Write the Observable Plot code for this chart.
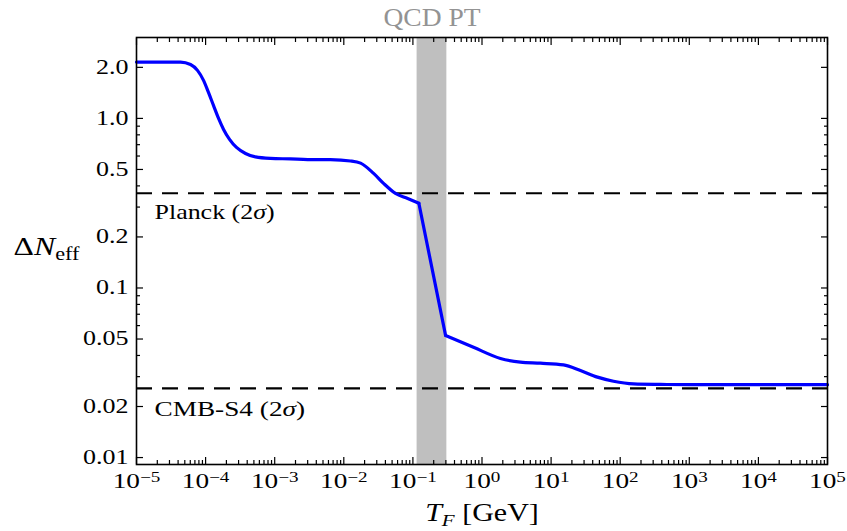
<!DOCTYPE html>
<html><head><meta charset="utf-8">
<script src="https://cdn.jsdelivr.net/npm/d3@7"></script>
<script src="https://cdn.jsdelivr.net/npm/@observablehq/plot@0.6"></script>
<style>body{margin:0;background:#fff}</style>
</head><body><div id="chart"></div>
<script>
// ---- data ----
const lowT = [1e-5, 2e-5, 4.34e-5, 6.05e-5, 7.63e-5, 9.33e-5, 1.1e-4, 1.3e-4, 1.54e-4, 1.82e-4, 2.22e-4, 2.8e-4, 3.78e-4, 5.27e-4, 8.69e-4, 1.69e-3, 3e-3, 6.4e-3, 1.25e-2, 1.75e-2, 2.7e-2, 3.76e-2, 5.6e-2, 8.4e-2, 0.122];
const lowN = [2.15, 2.15, 2.15, 2.08, 1.92, 1.676, 1.423, 1.193, 1.0, 0.861, 0.752, 0.674, 0.621, 0.593, 0.581, 0.577, 0.572, 0.571, 0.561, 0.545, 0.474, 0.414, 0.361, 0.337, 0.316];
const qcdT = [0.122, 0.297];
const qcdN = [0.316, 0.0525];
const highT = [0.297, 0.753, 1.85, 3.6, 7.0, 15.1, 26.6, 46.9, 80, 156, 383, 1e3, 1e4, 1e5];
const highN = [0.0525, 0.0447, 0.0384, 0.0365, 0.036, 0.0352, 0.0326, 0.0298, 0.0282, 0.0272, 0.0270, 0.0269, 0.0269, 0.0269];
const bandT = [0.115, 0.31];
const planckN = 0.362;
const cmbs4N = 0.0256;
const annotations = ["Planck (2σ)", "CMB-S4 (2σ)"];
const xExponents = [-5, -4, -3, -2, -1, 0, 1, 2, 3, 4, 5];
const xMajor = xExponents.map(e => Math.pow(10, e));
const xMinor = xExponents.slice(0, -1).flatMap(e => [2,3,4,5,6,7,8,9].map(m => m * Math.pow(10, e)));
const yMajor = [0.01, 0.02, 0.05, 0.1, 0.2, 0.5, 1, 2];
const yLabels = ["0.01", "0.02", "0.05", "0.1", "0.2", "0.5", "1.0", "2.0"];
const yMinor = [0.03, 0.04, 0.06, 0.07, 0.08, 0.09, 0.3, 0.4, 0.6, 0.7, 0.8, 0.9];

const rows = (T, N) => T.map((t, i) => ({T: t, N: N[i]}));
const blue = {x: "T", y: "N", stroke: "#0000ff", strokeWidth: 3.2};
const tickStyle = {stroke: "black", strokeWidth: 1.2};

const plot = Plot.plot({
  width: 847, height: 531,
  marginLeft: 136, marginRight: 20, marginTop: 37, marginBottom: 67,
  style: {fontFamily: "'Liberation Serif', serif", fontSize: "21px", background: "white", color: "black"},
  x: {type: "log", domain: [1e-5, 1e5]},
  y: {type: "log", domain: [0.0091, 3.0]},
  marks: [
    Plot.rect([bandT], {x1: d => d[0], x2: d => d[1], fill: "#bfbfbf"}),
    Plot.ruleY([planckN, cmbs4N], {stroke: "black", strokeWidth: 2.2, strokeDasharray: "16,10"}),
    Plot.line(rows(lowT, lowN), {...blue, curve: "monotone-x"}),
    Plot.line(rows(qcdT, qcdN), {...blue, curve: "linear"}),
    Plot.line(rows(highT, highN), {...blue, curve: "monotone-x"}),
    Plot.frame({stroke: "black", strokeWidth: 1.6}),
    // inward ticks on all four sides
    Plot.axisX({anchor: "bottom", ticks: xMajor, tickSize: 7, dy: -7, tickFormat: () => "", label: null, ...tickStyle}),
    Plot.axisX({anchor: "bottom", ticks: xMinor, tickSize: 4, dy: -4, tickFormat: () => "", label: null, ...tickStyle}),
    Plot.axisX({anchor: "top", ticks: xMajor, tickSize: 7, dy: 7, tickFormat: () => "", label: null, ...tickStyle}),
    Plot.axisX({anchor: "top", ticks: xMinor, tickSize: 4, dy: 4, tickFormat: () => "", label: null, ...tickStyle}),
    Plot.axisY({anchor: "left", ticks: yMajor, tickSize: 7, dx: 7, tickFormat: () => "", label: null, ...tickStyle}),
    Plot.axisY({anchor: "left", ticks: yMinor, tickSize: 4, dx: 4, tickFormat: () => "", label: null, ...tickStyle}),
    Plot.axisY({anchor: "right", ticks: yMajor, tickSize: 7, dx: -7, tickFormat: () => "", label: null, ...tickStyle}),
    Plot.axisY({anchor: "right", ticks: yMinor, tickSize: 4, dx: -4, tickFormat: () => "", label: null, ...tickStyle}),
    // tick labels
    Plot.text(xMajor, {x: d => d, frameAnchor: "bottom", text: (d, i) => `10^${xExponents[i]}`,
      lineAnchor: "top", dy: 9, fontSize: 21}),
    Plot.text(yMajor, {y: d => d, frameAnchor: "left", text: (d, i) => yLabels[i],
      textAnchor: "end", lineAnchor: "middle", dx: -8, fontSize: 20}),
    // annotations
    Plot.text([planckN], {y: d => d, frameAnchor: "left", text: () => annotations[0], textAnchor: "start", lineAnchor: "top", dx: 18, dy: 10, fontSize: 22}),
    Plot.text([cmbs4N], {y: d => d, frameAnchor: "left", text: () => annotations[1], textAnchor: "start", lineAnchor: "top", dx: 18, dy: 12, fontSize: 22}),
    Plot.text([Math.sqrt(bandT[0] * bandT[1])], {x: d => d, frameAnchor: "top", text: () => "QCD PT", fill: "#939393", fontSize: 25, lineAnchor: "middle", dy: -20}),
    // axis labels
    Plot.text(["ΔN_eff"], {frameAnchor: "left", text: d => d, textAnchor: "middle", dx: -90, dy: -4, fontSize: 26}),
    Plot.text(["T_F [GeV]"], {frameAnchor: "bottom", text: d => d, textAnchor: "middle", lineAnchor: "middle", dy: 48, fontSize: 25})
  ]
});

// ---- TeX-like markup & horizontal glyph proportions ----
const markup = {
  "ΔN_eff": 'Δ<tspan font-style="italic">N</tspan><tspan font-size="0.7em" dy="5">eff</tspan>',
  "T_F [GeV]": '<tspan font-style="italic">T</tspan><tspan font-style="italic" font-size="0.7em" dy="5">F</tspan><tspan dy="-5"> [GeV]</tspan>',
  "Planck (2σ)": 'Planck (2<tspan font-style="italic">σ</tspan>)',
  "CMB-S4 (2σ)": 'CMB-S4 (2<tspan font-style="italic">σ</tspan>)'
};
plot.querySelectorAll("text").forEach(t => {
  const s = t.textContent;
  if (!s) return;
  let scale = 1.3;
  const m = s.match(/^10\^(-?\d+)$/);
  if (m) {
    t.innerHTML = `10<tspan font-size="0.7em" dy="-0.42em">${m[1].replace("-", "\u2212")}</tspan>`;
    scale = 1.3;
  } else if (markup[s]) {
    t.innerHTML = markup[s];
    scale = (s === "ΔN_eff") ? 1.22 : (s === "T_F [GeV]") ? 1.2 : (s === annotations[0]) ? 1.18 : 1.24;
  } else if (s === "QCD PT") {
    scale = 1.1;
  }
  const x = +(t.getAttribute("x") || 0);
  const tr = t.getAttribute("transform") || "";
  t.setAttribute("transform", `${tr} translate(${x},0) scale(${scale},1) translate(${-x},0)`);
});
document.getElementById("chart").appendChild(plot);
</script>
</body></html>
